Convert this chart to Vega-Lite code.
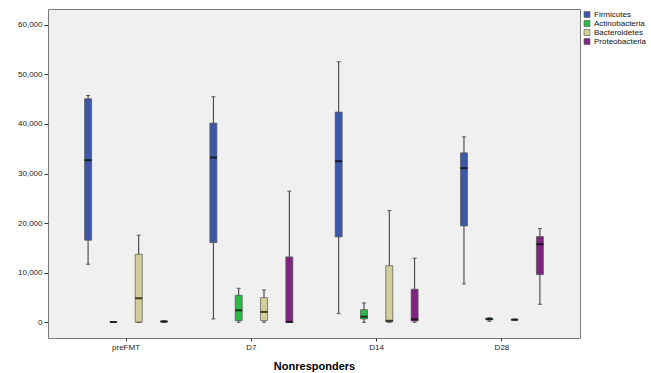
{
  "$schema": "https://vega.github.io/schema/vega-lite/v6.json",
  "autosize": {"type": "none"},
  "width": 532,
  "height": 329,
  "padding": {"left": 48, "top": 9, "right": 71, "bottom": 35},
  "background": "white",
  "config": {
    "view": {"fill": "#f0f0f0", "stroke": "#7a7a7a", "strokeWidth": 1},
    "font": "Liberation Sans"
  },
  "data": {
    "values": [
      {"group": "preFMT", "phylum": "Firmicutes", "min": 11700, "q1": 16550, "median": 32690, "q3": 45070, "max": 45730},
      {"group": "preFMT", "phylum": "Actinobacteria", "min": 0, "q1": 20, "median": 50, "q3": 80, "max": 150},
      {"group": "preFMT", "phylum": "Bacteroidetes", "min": 0, "q1": 0, "median": 4840, "q3": 13720, "max": 17560},
      {"group": "preFMT", "phylum": "Proteobacteria", "min": 0, "q1": 50, "median": 150, "q3": 250, "max": 300},
      {"group": "D7", "phylum": "Firmicutes", "min": 670, "q1": 16070, "median": 33220, "q3": 40160, "max": 45470},
      {"group": "D7", "phylum": "Actinobacteria", "min": 0, "q1": 320, "median": 2420, "q3": 5450, "max": 6860},
      {"group": "D7", "phylum": "Bacteroidetes", "min": 0, "q1": 320, "median": 2080, "q3": 4970, "max": 6520},
      {"group": "D7", "phylum": "Proteobacteria", "min": 0, "q1": 0, "median": 60, "q3": 13180, "max": 26440},
      {"group": "D14", "phylum": "Firmicutes", "min": 1740, "q1": 17210, "median": 32490, "q3": 42380, "max": 52530},
      {"group": "D14", "phylum": "Actinobacteria", "min": 0, "q1": 670, "median": 1130, "q3": 2540, "max": 3900},
      {"group": "D14", "phylum": "Bacteroidetes", "min": 0, "q1": 100, "median": 300, "q3": 11420, "max": 22520},
      {"group": "D14", "phylum": "Proteobacteria", "min": 0, "q1": 260, "median": 600, "q3": 6660, "max": 12920},
      {"group": "D28", "phylum": "Firmicutes", "min": 7730, "q1": 19430, "median": 31080, "q3": 34170, "max": 37400},
      {"group": "D28", "phylum": "Actinobacteria", "min": 200, "q1": 500, "median": 650, "q3": 800, "max": 900},
      {"group": "D28", "phylum": "Bacteroidetes", "min": 400, "q1": 450, "median": 520, "q3": 600, "max": 650},
      {"group": "D28", "phylum": "Proteobacteria", "min": 3630, "q1": 9610, "median": 15740, "q3": 17280, "max": 18890}
    ]
  },
  "encoding": {
    "x": {
      "field": "group", "type": "nominal", "sort": ["preFMT", "D7", "D14", "D28"],
      "scale": {"paddingInner": 0, "paddingOuter": 0.123},
      "axis": {
        "title": "Nonresponders", "titleFontSize": 11, "titleFontWeight": "bold", "titleColor": "#000",
        "titlePadding": 9, "labelAngle": 0, "labelFontSize": 8, "labelColor": "#222",
        "tickSize": 3, "tickColor": "#333", "domain": false, "labelPadding": 2
      }
    },
    "xOffset": {
      "field": "phylum", "type": "nominal",
      "sort": ["Firmicutes", "Actinobacteria", "Bacteroidetes", "Proteobacteria"],
      "scale": {"paddingInner": 0, "paddingOuter": 0.475}
    }
  },
  "layer": [
    {
      "mark": {"type": "rule", "color": "#333", "strokeWidth": 1},
      "encoding": {
        "y": {
          "field": "min", "type": "quantitative",
          "scale": {"domain": [-3170, 63170], "nice": false, "zero": false},
          "axis": {
            "title": null, "values": [0, 10000, 20000, 30000, 40000, 50000, 60000], "format": ",.0f",
            "labelFontSize": 8, "labelColor": "#222", "tickSize": 4, "tickColor": "#333",
            "domain": false, "grid": false, "labelPadding": 2
          }
        },
        "y2": {"field": "max"}
      }
    },
    {
      "mark": {"type": "bar", "size": 7, "stroke": "#555", "strokeWidth": 0.7},
      "encoding": {
        "y": {"field": "q1", "type": "quantitative"},
        "y2": {"field": "q3"},
        "color": {
          "field": "phylum", "type": "nominal",
          "sort": ["Firmicutes", "Actinobacteria", "Bacteroidetes", "Proteobacteria"],
          "scale": {
            "domain": ["Firmicutes", "Actinobacteria", "Bacteroidetes", "Proteobacteria"],
            "range": ["#3d57a9", "#2db84a", "#d4cf9a", "#7d2580"]
          },
          "legend": {
            "title": null, "orient": "none", "legendX": 535, "legendY": 1.5,
            "symbolType": "square", "symbolSize": 36, "symbolStrokeColor": "#666", "symbolStrokeWidth": 0.7,
            "labelFontSize": 8, "labelColor": "#111", "rowPadding": -2, "labelOffset": 3, "padding": 0
          }
        }
      }
    },
    {
      "mark": {"type": "tick", "size": 7, "thickness": 2, "color": "#000", "orient": "horizontal"},
      "encoding": {"y": {"field": "median", "type": "quantitative"}}
    },
    {
      "mark": {"type": "tick", "size": 4, "thickness": 1, "color": "#222", "orient": "horizontal"},
      "encoding": {"y": {"field": "min", "type": "quantitative"}}
    },
    {
      "mark": {"type": "tick", "size": 4, "thickness": 1, "color": "#222", "orient": "horizontal"},
      "encoding": {"y": {"field": "max", "type": "quantitative"}}
    }
  ]
}
